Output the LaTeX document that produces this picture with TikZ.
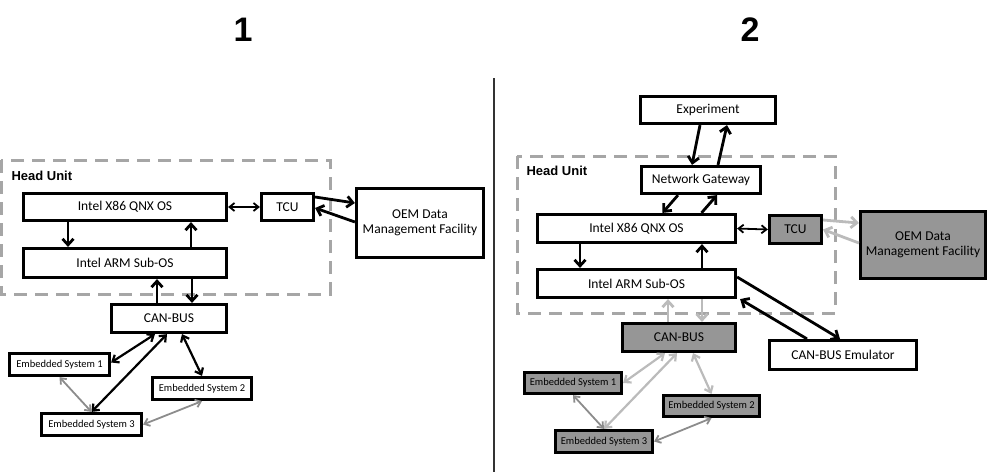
\documentclass[tikz,border=0pt]{standalone}
\usepackage{fontspec}
\setmainfont{Carlito}
\newfontfamily\headfont{Liberation Sans}
\usetikzlibrary {arrows.meta}

\definecolor{boxgray}{HTML}{969696}
\definecolor{linegray}{HTML}{BBBBBB}
\definecolor{dashgray}{HTML}{A6A6A6}

\begin{document}
\begin{tikzpicture}[x=1pt, y=-1pt,
    box/.style={draw, line width=3.2pt, inner sep=0pt, font=\fontsize{13.5}{15}\selectfont, align=center},
    smallbox/.style={box, font=\fontsize{10.5}{12}\selectfont},
    graybox/.style={fill=boxgray},
    arr/.style={line width=2.8pt, -{Straight Barb[length=6pt,width=11pt]}},
    thinarr/.style={line width=1.8pt, {Straight Barb[length=5pt,width=8pt]}-{Straight Barb[length=5pt,width=8pt]}},
    dblarr/.style={line width=2.2pt, {Straight Barb[length=5.5pt,width=9pt]}-{Straight Barb[length=5.5pt,width=9pt]}},
    grayarr/.style={draw=linegray},
    unit/.style={draw=dashgray, line width=3pt, dash pattern=on 13pt off 8pt},
    unitlabel/.style={anchor=west, font=\headfont\bfseries\fontsize{13}{15}\selectfont},
    title/.style={font=\headfont\bfseries\fontsize{34}{36}\selectfont}]
    \useasboundingbox (0,0) rectangle (988,472);

    % titles and divider
    \node[title] (t1) at (243,30) {1};
    \node[title] (t2) at (750,30) {2};
    \draw[line width=1.4pt, draw=black!80] (494,78) -- (494,472);

    % ---- panel 1 ----
    \draw[unit] (1,160) rectangle (330,294);
    \node[unitlabel] (hu1) at (8,176) {Head Unit};
    \node[box, minimum width=203pt, minimum height=27pt] (x86L) at (125,207) {Intel X86 QNX OS};
    \node[box, minimum width=203pt, minimum height=29pt] (armL) at (125,263) {Intel ARM Sub-OS};
    \node[box, minimum width=52pt, minimum height=27pt] (tcuL) at (287.5,207) {TCU};
    \node[box, minimum width=127pt, minimum height=69pt] (oemL) at (420,223) {OEM Data\\Management Facility};
    \node[box, minimum width=115pt, minimum height=28pt] (canL) at (169,318.5) {CAN-BUS};
    \node[smallbox, minimum width=100pt, minimum height=22pt] (es1L) at (59.5,364.5) {Embedded System 1};
    \node[smallbox, minimum width=99pt, minimum height=22pt] (es2L) at (202,388.5) {Embedded System 2};
    \node[smallbox, minimum width=100pt, minimum height=22pt] (es3L) at (91.5,424.5) {Embedded System 3};

    \draw[arr] ([xshift=-57pt]x86L.south) -- ([xshift=-57pt]armL.north);
    \draw[arr] ([xshift=66pt]armL.north) -- ([xshift=66pt]x86L.south);
    \draw[thinarr] (x86L.east) -- (tcuL.west);
    \draw[arr] ([yshift=10pt]tcuL.east) -- ([yshift=20pt]oemL.west);
    \draw[arr] ([yshift=1pt]oemL.west) -- ([yshift=-1pt]tcuL.east);
    \draw[arr] ([xshift=-12pt]canL.north) -- ([xshift=32pt]armL.south);
    \draw[arr] ([xshift=67pt]armL.south) -- ([xshift=23pt]canL.north);
    \draw[dblarr] ([xshift=-14pt]canL.south) -- ([yshift=2pt]es1L.east);
    \draw[dblarr] ([xshift=-2pt]canL.south) -- (es3L.north);
    \draw[dblarr] ([xshift=13pt]canL.south) -- (es2L.north);
    \draw[thinarr, draw=black!45] (es1L.south) -- (es3L.north);
    \draw[thinarr, draw=black!45] (es3L.east) -- (es2L.south);

    % ---- panel 2 ----
    \draw[unit] (517,156) rectangle (835,313);
    \node[unitlabel] (hu2) at (523,171) {Head Unit};
    \node[box, minimum width=135pt, minimum height=27pt] (exp) at (708,110) {Experiment};
    \node[box, minimum width=119pt, minimum height=27pt] (gw) at (701,180) {Network Gateway};
    \node[box, minimum width=198pt, minimum height=28pt] (x86R) at (636.5,228.5) {Intel X86 QNX OS};
    \node[box, minimum width=198pt, minimum height=28pt] (armR) at (636.5,283.5) {Intel ARM Sub-OS};
    \node[box, graybox, minimum width=52pt, minimum height=28pt] (tcuR) at (795.5,229.5) {TCU};
    \node[box, graybox, minimum width=125pt, minimum height=67pt] (oemR) at (923,245) {OEM Data\\Management Facility};
    \node[box, minimum width=147pt, minimum height=29pt] (emu) at (843,355) {CAN-BUS Emulator};
    \node[box, graybox, minimum width=113pt, minimum height=28pt] (canR) at (679,337.5) {CAN-BUS};
    \node[smallbox, graybox, minimum width=97pt, minimum height=21pt] (es1R) at (573,383) {Embedded System 1};
    \node[smallbox, graybox, minimum width=96pt, minimum height=21pt] (es2R) at (711.5,406) {Embedded System 2};
    \node[smallbox, graybox, minimum width=97pt, minimum height=22pt] (es3R) at (604,441.5) {Embedded System 3};

    \draw[arr] ([xshift=-8pt]exp.south) -- ([xshift=-9pt]gw.north);
    \draw[arr] ([xshift=17pt]gw.north) -- ([xshift=19pt]exp.south);
    \draw[arr] ([xshift=-23pt]gw.south) -- ([xshift=26pt]x86R.north);
    \draw[arr] ([xshift=65pt]x86R.north) -- ([xshift=16pt]gw.south);
    \draw[thinarr] (x86R.east) -- (tcuR.west);
    \draw[arr, grayarr] ([yshift=9.5pt]tcuR.east) -- ([yshift=22pt]oemR.west);
    \draw[arr, grayarr] ([yshift=2pt]oemR.west) -- (tcuR.east);
    \draw[arr] ([xshift=-56.5pt]x86R.south) -- ([xshift=-56.5pt]armR.north);
    \draw[arr] ([xshift=65.5pt]armR.north) -- ([xshift=65.5pt]x86R.south);
    \draw[arr] ([yshift=6.5pt]armR.east) -- ([xshift=-3pt]emu.north);
    \draw[arr] ([xshift=-36pt]emu.north) -- ([xshift=3pt]armR.south east);
    \draw[arr, grayarr] ([xshift=-11pt]canR.north) -- ([xshift=31.5pt]armR.south);
    \draw[arr, grayarr] ([xshift=65.5pt]armR.south) -- ([xshift=23pt]canR.north);
    \draw[dblarr, grayarr] ([xshift=-14pt]canR.south) -- (es1R.east);
    \draw[dblarr, grayarr] ([xshift=-2pt]canR.south) -- (es3R.north);
    \draw[dblarr, grayarr] ([xshift=14pt]canR.south) -- (es2R.north);
    \draw[thinarr, draw=black!45] (es1R.south) -- (es3R.north);
    \draw[thinarr, draw=black!45] (es3R.east) -- (es2R.south);
\end{tikzpicture}
\end{document}
